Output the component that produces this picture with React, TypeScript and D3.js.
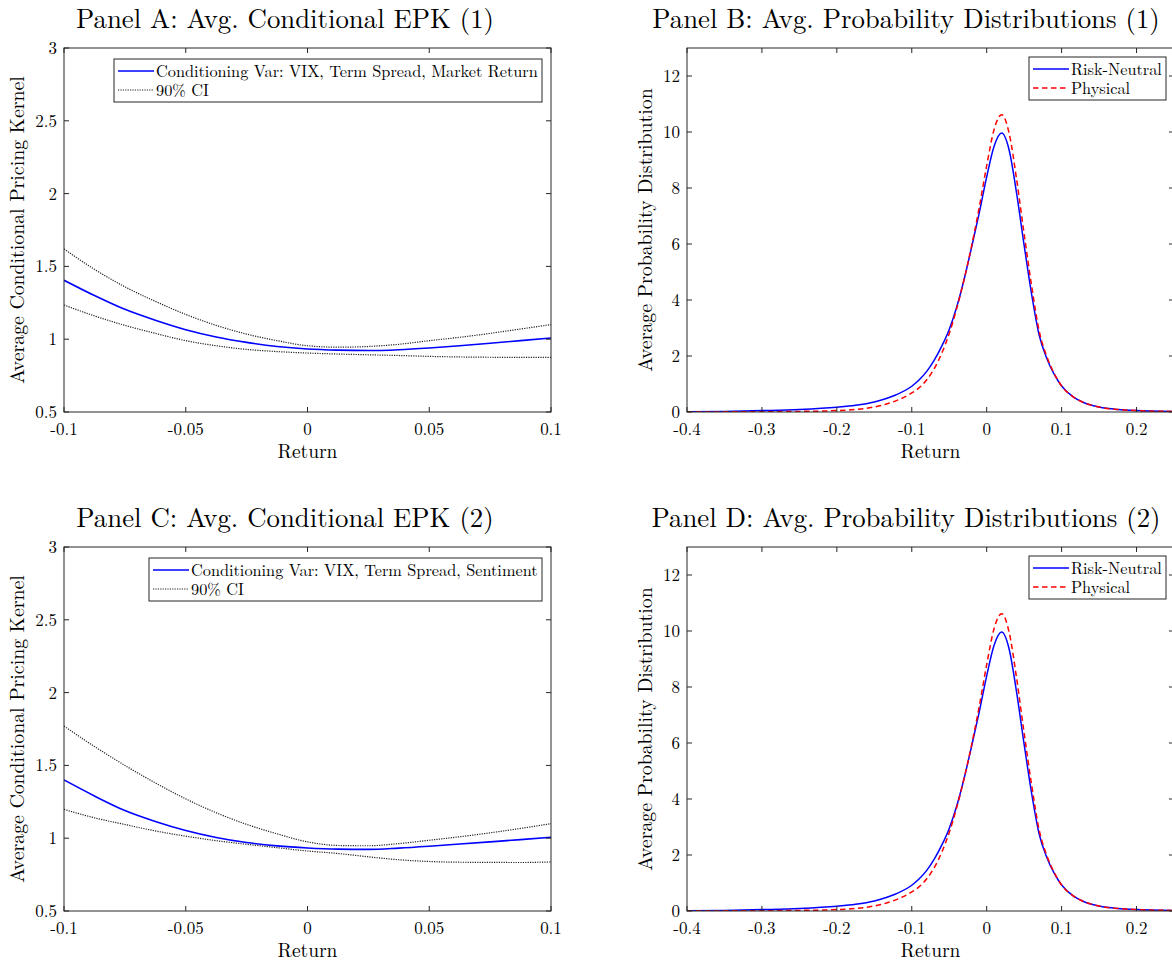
import React from "react";
import * as d3 from "d3";

// ---------- DATA ----------
const epkReturns = [-0.1, -0.0875, -0.075, -0.0625, -0.05, -0.0375, -0.025, -0.0125, 0, 0.0125, 0.025, 0.0375, 0.05, 0.0625, 0.075, 0.0875, 0.1];

const epkA = [1.405, 1.30, 1.205, 1.13, 1.065, 1.015, 0.978, 0.95, 0.933, 0.925, 0.922, 0.928, 0.94, 0.955, 0.972, 0.99, 1.008];
const epkAUpper = [1.62, 1.48, 1.36, 1.26, 1.17, 1.095, 1.035, 0.99, 0.955, 0.945, 0.95, 0.965, 0.99, 1.013, 1.04, 1.07, 1.1];
const epkALower = [1.235, 1.16, 1.095, 1.04, 0.99, 0.955, 0.93, 0.915, 0.905, 0.898, 0.893, 0.888, 0.882, 0.878, 0.876, 0.875, 0.875];

const epkC = [1.4, 1.29, 1.19, 1.115, 1.053, 1.005, 0.97, 0.947, 0.933, 0.925, 0.923, 0.932, 0.945, 0.96, 0.975, 0.99, 1.007];
const epkCUpper = [1.77, 1.63, 1.5, 1.38, 1.27, 1.175, 1.095, 1.03, 0.975, 0.95, 0.948, 0.963, 0.986, 1.01, 1.037, 1.067, 1.1];
const epkCLower = [1.198, 1.14, 1.094, 1.05, 1.014, 0.983, 0.958, 0.935, 0.912, 0.895, 0.872, 0.852, 0.84, 0.835, 0.834, 0.833, 0.837];

const distReturns = [-0.4, -0.35, -0.3, -0.25, -0.2, -0.175, -0.15, -0.125, -0.1, -0.09, -0.08, -0.07, -0.06, -0.05, -0.04, -0.03, -0.02, -0.01, 0, 0.01, 0.02, 0.03, 0.04, 0.05, 0.06, 0.07, 0.08, 0.09, 0.1, 0.115, 0.13, 0.15, 0.175, 0.2, 0.25];
const riskNeutral = [0.01, 0.02, 0.05, 0.09, 0.17, 0.24, 0.36, 0.57, 0.92, 1.15, 1.45, 1.85, 2.35, 2.95, 3.75, 4.75, 5.9, 7.1, 8.4, 9.5, 9.96, 9.35, 7.8, 5.95, 4.2, 2.75, 1.93, 1.35, 0.93, 0.55, 0.33, 0.18, 0.09, 0.05, 0.02];
const physical = [0.0, 0.005, 0.01, 0.02, 0.05, 0.09, 0.18, 0.36, 0.68, 0.87, 1.15, 1.55, 2.1, 2.8, 3.7, 4.75, 5.95, 7.3, 8.8, 10.1, 10.62, 9.95, 8.3, 6.35, 4.5, 2.9, 2.0, 1.38, 0.93, 0.55, 0.33, 0.18, 0.09, 0.05, 0.02];

const epkXTicks = [-0.1, -0.05, 0, 0.05, 0.1];
const epkXTickLabels = ["-0.1", "-0.05", "0", "0.05", "0.1"];
const epkYTicks = [0.5, 1, 1.5, 2, 2.5, 3];
const epkYTickLabels = ["0.5", "1", "1.5", "2", "2.5", "3"];

const distXTicks = [-0.4, -0.3, -0.2, -0.1, 0, 0.1, 0.2];
const distXTickLabels = ["-0.4", "-0.3", "-0.2", "-0.1", "0", "0.1", "0.2"];
const distYTicks = [0, 2, 4, 6, 8, 10, 12];
const distYTickLabels = ["0", "2", "4", "6", "8", "10", "12"];

const titles = [
  "Panel A: Avg. Conditional EPK (1)",
  "Panel B: Avg. Probability Distributions (1)",
  "Panel C: Avg. Conditional EPK (2)",
  "Panel D: Avg. Probability Distributions (2)",
];
const epkLegendA = ["Conditioning Var: VIX, Term Spread, Market Return", "90% CI"];
const epkLegendC = ["Conditioning Var: VIX, Term Spread, Sentiment", "90% CI"];
const distLegend = ["Risk-Neutral", "Physical"];

// ---------- STYLE ----------
const FONT = "'Latin Modern Roman', 'CMU Serif', 'Liberation Serif', serif";
const AX = "#262626";

type Series = { x: number[]; y: number[]; color: string; width: number; dash?: string };
type LegendItem = { label: string; color: string; width: number; dash?: string };

type PanelProps = {
  left: number; top: number; width: number; height: number;
  xDomain: [number, number]; yDomain: [number, number];
  xTicks: number[]; xTickLabels: string[];
  yTicks: number[]; yTickLabels: string[];
  series: Series[];
  title: string; titleX: number;
  yLabel: string; yLabelX: number;
  legend: { x: number; y: number; w: number; h: number; items: LegendItem[] };
  id: string;
};

function Panel(p: PanelProps) {
  const x = d3.scaleLinear().domain(p.xDomain).range([p.left, p.left + p.width]);
  const y = d3.scaleLinear().domain(p.yDomain).range([p.top + p.height, p.top]);
  const line = d3.line<[number, number]>().x((d) => x(d[0])).y((d) => y(d[1])).curve(d3.curveMonotoneX);
  const bottom = p.top + p.height;
  const right = p.left + p.width;
  const tl = 5;
  return (
    <g>
      <defs>
        <clipPath id={p.id}>
          <rect x={p.left} y={p.top} width={p.width} height={p.height} />
        </clipPath>
      </defs>
      <text x={p.titleX} y={p.top - 20} textAnchor="middle" fontFamily={FONT} fontSize={26.8} fill="#000">{p.title}</text>
      <g clipPath={`url(#${p.id})`}>
        {p.series.map((s, i) => (
          <path key={i} d={line(s.x.map((v, j) => [v, s.y[j]] as [number, number])) || ""} fill="none" stroke={s.color} strokeWidth={s.width} strokeDasharray={s.dash} />
        ))}
      </g>
      <rect x={p.left} y={p.top} width={p.width} height={p.height} fill="none" stroke={AX} strokeWidth={1} />
      {p.xTicks.map((t, i) => (
        <g key={"xt" + i}>
          <line x1={x(t)} x2={x(t)} y1={bottom} y2={bottom - tl} stroke={AX} />
          <line x1={x(t)} x2={x(t)} y1={p.top} y2={p.top + tl} stroke={AX} />
          <text x={x(t)} y={bottom + 23} textAnchor="middle" fontFamily={FONT} fontSize={17} fill="#000">{p.xTickLabels[i]}</text>
        </g>
      ))}
      {p.yTicks.map((t, i) => (
        <g key={"yt" + i}>
          <line x1={p.left} x2={p.left + tl} y1={y(t)} y2={y(t)} stroke={AX} />
          <line x1={right} x2={right - tl} y1={y(t)} y2={y(t)} stroke={AX} />
          <text x={p.left - 7} y={y(t) + 6} textAnchor="end" fontFamily={FONT} fontSize={17} fill="#000">{p.yTickLabels[i]}</text>
        </g>
      ))}
      <text x={p.left + p.width / 2} y={bottom + 46} textAnchor="middle" fontFamily={FONT} fontSize={19.5} fill="#000">Return</text>
      <text transform={`translate(${p.yLabelX},${p.top + p.height / 2}) rotate(-90)`} textAnchor="middle" fontFamily={FONT} fontSize={19.8} fill="#000">{p.yLabel}</text>
      <g>
        <rect x={p.legend.x} y={p.legend.y} width={p.legend.w} height={p.legend.h} fill="#fff" stroke={AX} strokeWidth={1} />
        {p.legend.items.map((it, i) => {
          const cy = p.legend.y + 12 + i * 19;
          return (
            <g key={"lg" + i}>
              <line x1={p.legend.x + 4} x2={p.legend.x + 40} y1={cy} y2={cy} stroke={it.color} strokeWidth={it.width} strokeDasharray={it.dash} />
              <text x={p.legend.x + 42} y={cy + 5.5} fontFamily={FONT} fontSize={16.3} fill="#000">{it.label}</text>
            </g>
          );
        })}
      </g>
    </g>
  );
}

export default function App() {
  const dotted = "1.2,1.2";
  const dashed = "5.5,3.5";
  const ciColor = "#222";
  const epkSeries = (mid: number[], up: number[], lo: number[]): Series[] => [
    { x: epkReturns, y: up, color: ciColor, width: 1.2, dash: dotted },
    { x: epkReturns, y: lo, color: ciColor, width: 1.2, dash: dotted },
    { x: epkReturns, y: mid, color: "#0000ff", width: 1.6 },
  ];
  const distSeries: Series[] = [
    { x: distReturns, y: riskNeutral, color: "#0000ff", width: 1.5 },
    { x: distReturns, y: physical, color: "#ff0000", width: 1.5, dash: dashed },
  ];
  const epkLeg = (labels: string[]): LegendItem[] => [
    { label: labels[0], color: "#0000ff", width: 1.6 },
    { label: labels[1], color: ciColor, width: 1.2, dash: dotted },
  ];
  const distLeg: LegendItem[] = [
    { label: distLegend[0], color: "#0000ff", width: 1.5 },
    { label: distLegend[1], color: "#ff0000", width: 1.5, dash: dashed },
  ];
  return (
    <svg width={1172} height={965} style={{ position: "absolute", left: 0, top: 0, background: "#fff" }}>
      <rect x={0} y={0} width={1172} height={965} fill="#fff" />
      <Panel id="cA" left={64} top={48} width={487} height={364} xDomain={[-0.1, 0.1]} yDomain={[0.5, 3]}
        xTicks={epkXTicks} xTickLabels={epkXTickLabels} yTicks={epkYTicks} yTickLabels={epkYTickLabels}
        series={epkSeries(epkA, epkAUpper, epkALower)} title={titles[0]} titleX={285}
        yLabel="Average Conditional Pricing Kernel" yLabelX={24}
        legend={{ x: 114, y: 59, w: 428, h: 43, items: epkLeg(epkLegendA) }} />
      <Panel id="cB" left={687} top={48} width={487} height={364} xDomain={[-0.4, 0.25]} yDomain={[0, 13]}
        xTicks={distXTicks} xTickLabels={distXTickLabels} yTicks={distYTicks} yTickLabels={distYTickLabels}
        series={distSeries} title={titles[1]} titleX={906}
        yLabel="Average Probability Distribution" yLabelX={652}
        legend={{ x: 1029, y: 57, w: 137, h: 43, items: distLeg }} />
      <Panel id="cC" left={64} top={547} width={487} height={364} xDomain={[-0.1, 0.1]} yDomain={[0.5, 3]}
        xTicks={epkXTicks} xTickLabels={epkXTickLabels} yTicks={epkYTicks} yTickLabels={epkYTickLabels}
        series={epkSeries(epkC, epkCUpper, epkCLower)} title={titles[2]} titleX={285}
        yLabel="Average Conditional Pricing Kernel" yLabelX={24}
        legend={{ x: 149, y: 558, w: 393, h: 43, items: epkLeg(epkLegendC) }} />
      <Panel id="cD" left={687} top={547} width={487} height={364} xDomain={[-0.4, 0.25]} yDomain={[0, 13]}
        xTicks={distXTicks} xTickLabels={distXTickLabels} yTicks={distYTicks} yTickLabels={distYTickLabels}
        series={distSeries} title={titles[3]} titleX={906}
        yLabel="Average Probability Distribution" yLabelX={652}
        legend={{ x: 1029, y: 556, w: 137, h: 43, items: distLeg }} />
    </svg>
  );
}
